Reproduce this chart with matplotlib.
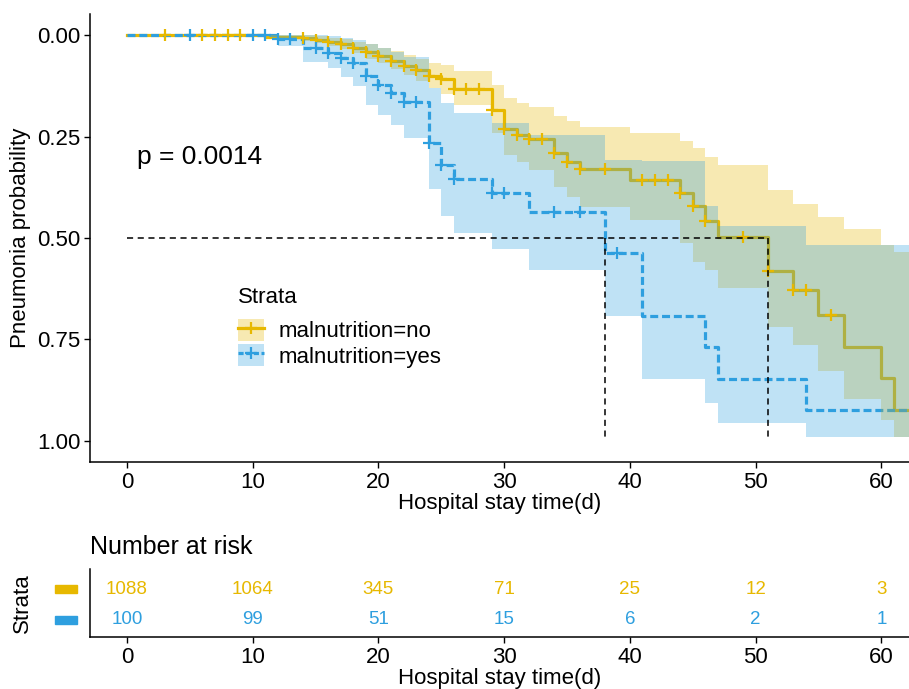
import numpy as np
import matplotlib
matplotlib.use("Agg")
from matplotlib import pyplot as plt
from matplotlib.patches import Patch, Rectangle
from matplotlib.lines import Line2D
from matplotlib.legend_handler import HandlerTuple
import matplotlib.transforms as mtransforms

plt.rcParams["font.family"] = ["Liberation Sans", "DejaVu Sans"]

# malnutrition = no  (cumulative pneumonia probability)
no_time = [0, 11, 14, 15, 16, 17, 18, 19, 20, 21, 22, 23, 24, 25, 26, 29, 30, 31, 32,
           34, 35, 36, 40, 44, 45, 46, 47, 51, 53, 55, 57, 60, 61]
no_cum = [0, 0.004, 0.008, 0.012, 0.017, 0.023, 0.031, 0.042, 0.052, 0.063, 0.075, 0.087,
          0.100, 0.108, 0.133, 0.185, 0.232, 0.246, 0.257, 0.290, 0.312, 0.330, 0.357,
          0.388, 0.421, 0.459, 0.497, 0.581, 0.628, 0.690, 0.768, 0.845, 0.924]
no_lo = [0, 0, 0.001, 0.003, 0.006, 0.010, 0.016, 0.023, 0.031, 0.040, 0.050, 0.058,
         0.068, 0.074, 0.089, 0.123, 0.155, 0.167, 0.177, 0.200, 0.212, 0.226, 0.241,
         0.260, 0.279, 0.300, 0.320, 0.382, 0.416, 0.448, 0.478, 0.517, 0.535]
no_hi = [0, 0.009, 0.014, 0.020, 0.027, 0.035, 0.045, 0.058, 0.070, 0.083, 0.098, 0.113,
         0.130, 0.145, 0.172, 0.241, 0.296, 0.312, 0.333, 0.374, 0.399, 0.423, 0.456,
         0.512, 0.560, 0.580, 0.623, 0.719, 0.764, 0.827, 0.897, 0.948, 0.990]
no_cens = [3, 6, 7, 8, 9, 14, 15, 16, 17, 18, 19, 20, 21, 22, 23, 24, 25, 26, 27, 28, 29,
           30, 31, 32, 33, 34, 35, 36, 38, 41, 42, 43, 44, 45, 46, 49, 51, 53, 54, 56]

# malnutrition = yes
yes_time = [0, 12, 14, 16, 17, 18, 19, 20, 21, 22, 24, 25, 26, 29, 32, 38, 41, 46, 47, 54]
yes_cum = [0, 0.010, 0.031, 0.044, 0.057, 0.070, 0.100, 0.123, 0.143, 0.164, 0.266, 0.321,
           0.355, 0.390, 0.435, 0.537, 0.692, 0.768, 0.847, 0.924]
yes_lo = [0, 0, 0, 0.003, 0.008, 0.013, 0.022, 0.032, 0.042, 0.055, 0.131, 0.168, 0.193,
          0.217, 0.246, 0.308, 0.310, 0.420, 0.470, 0.517]
yes_hi = [0, 0.027, 0.066, 0.081, 0.103, 0.125, 0.172, 0.197, 0.222, 0.254, 0.380, 0.446,
          0.487, 0.527, 0.579, 0.692, 0.847, 0.906, 0.956, 0.990]
yes_cens = [5, 10, 11, 12, 13, 15, 16, 17, 18, 19, 20, 21, 22, 23, 24, 25, 26, 29, 30,
            34, 36, 39]

end_time = 62.5
medians = {"no": 51, "yes": 38}
p_text = "p = 0.0014"

risk_times = [0, 10, 20, 30, 40, 50, 60]
no_risk = [1088, 1064, 345, 71, 25, 12, 3]
yes_risk = [100, 99, 51, 15, 6, 2, 1]

YELLOW = "#E7B800"
BLUE = "#2E9FDF"


def extend(t, v):
    return np.array(list(t) + [end_time]), np.array(list(v) + [v[-1]])


def value_at(t, v, x):
    idx = np.searchsorted(np.array(t), np.array(x), side="right") - 1
    return np.array(v)[idx]


fig = plt.figure(figsize=(9.09, 6.89), dpi=100)
ax = fig.add_axes([0.099, 0.3295, 0.901, 0.6502])
ax2 = fig.add_axes([0.099, 0.0755, 0.901, 0.0987])

groups = [
    ("malnutrition=no", no_time, no_cum, no_lo, no_hi, no_cens, YELLOW, "-"),
    ("malnutrition=yes", yes_time, yes_cum, yes_lo, yes_hi, yes_cens, BLUE, "--"),
]

handles = []
labels = []
for name, t, c, lo, hi, cens, col, ls in groups:
    tt, cc = extend(t, c)
    _, ll = extend(t, lo)
    _, hh = extend(t, hi)
    line, = ax.step(tt, cc, where="post", color=col, lw=2.3, ls=ls, zorder=2)
    if ls == "--":
        line.set_dashes((2.5, 1.2))
    ax.fill_between(tt, ll, hh, step="post", color=col, alpha=0.3, lw=0, zorder=3)
    ax.plot(cens, value_at(t, c, cens), ls="none", marker="+", ms=8.5, mew=1.6,
            color=col, zorder=4)
    h_line = Line2D([], [], color=col, lw=2.3, ls=ls, marker="+", ms=8.5, mew=1.6)
    if ls == "--":
        h_line.set_dashes((1.6, 0.8))
    handles.append((Patch(facecolor=col, alpha=0.3, lw=0), h_line))
    labels.append(name)

# median lines
ax.plot([0, max(medians.values())], [0.5, 0.5], color="black", lw=1.1,
        dashes=(4, 3), zorder=5)
for m in medians.values():
    ax.plot([m, m], [0.5, 1.0], color="black", lw=1.1, dashes=(4, 3), zorder=5)

ax.text(0.8, 0.3, p_text, fontsize=19, va="center", ha="left")

ax.set_xlim(-2.94, 62.2)
ax.set_ylim(1.052, -0.052)
ax.set_xticks(risk_times)
ax.set_yticks([0, 0.25, 0.5, 0.75, 1.0])
ax.set_yticklabels(["0.00", "0.25", "0.50", "0.75", "1.00"])
ax.tick_params(labelsize=16, length=4, width=1, colors="black", pad=3)
ax.set_xlabel("Hospital stay time(d)", fontsize=16, labelpad=0)
ax.set_ylabel("Pneumonia probability", fontsize=16, labelpad=4)
for s in ["top", "right"]:
    ax.spines[s].set_visible(False)
for s in ["left", "bottom"]:
    ax.spines[s].set_linewidth(1.1)

leg = ax.legend(handles, labels, title="Strata", loc="upper left",
                bbox_to_anchor=(0.262, 0.584), bbox_transform=fig.transFigure,
                handler_map={tuple: HandlerTuple(ndivide=1, pad=0)},
                frameon=False, fontsize=16, title_fontsize=16,
                handlelength=1.15, handleheight=1.13, labelspacing=0.09,
                handletextpad=0.65, borderaxespad=0, borderpad=0)
leg._legend_box.align = "left"
leg._legend_box.sep = 8

# risk table
for i, (risk, col) in enumerate([(no_risk, YELLOW), (yes_risk, BLUE)]):
    row = 2 - i
    for x, n in zip(risk_times, risk):
        ax2.text(x, row, str(n), color=col, fontsize=13.5, ha="center", va="center")
    trans = mtransforms.blended_transform_factory(ax2.transAxes, ax2.transData)
    ax2.add_patch(Rectangle((-0.0427, row - 0.14), 0.0268, 0.28, transform=trans,
                            color=col, clip_on=False))

ax2.set_xlim(-2.94, 62.2)
ax2.set_ylim(0.45, 2.65)
ax2.set_xticks(risk_times)
ax2.set_yticks([])
ax2.tick_params(labelsize=16, length=4, width=1, colors="black", pad=3)
ax2.set_xlabel("Hospital stay time(d)", fontsize=16, labelpad=0)
ax2.set_ylabel("Strata", fontsize=16, labelpad=41)
ax2.set_title("Number at risk", fontsize=18, loc="left", pad=11)
for s in ["top", "right"]:
    ax2.spines[s].set_visible(False)
for s in ["left", "bottom"]:
    ax2.spines[s].set_linewidth(1.1)

fig.savefig("out.png", dpi=100)
